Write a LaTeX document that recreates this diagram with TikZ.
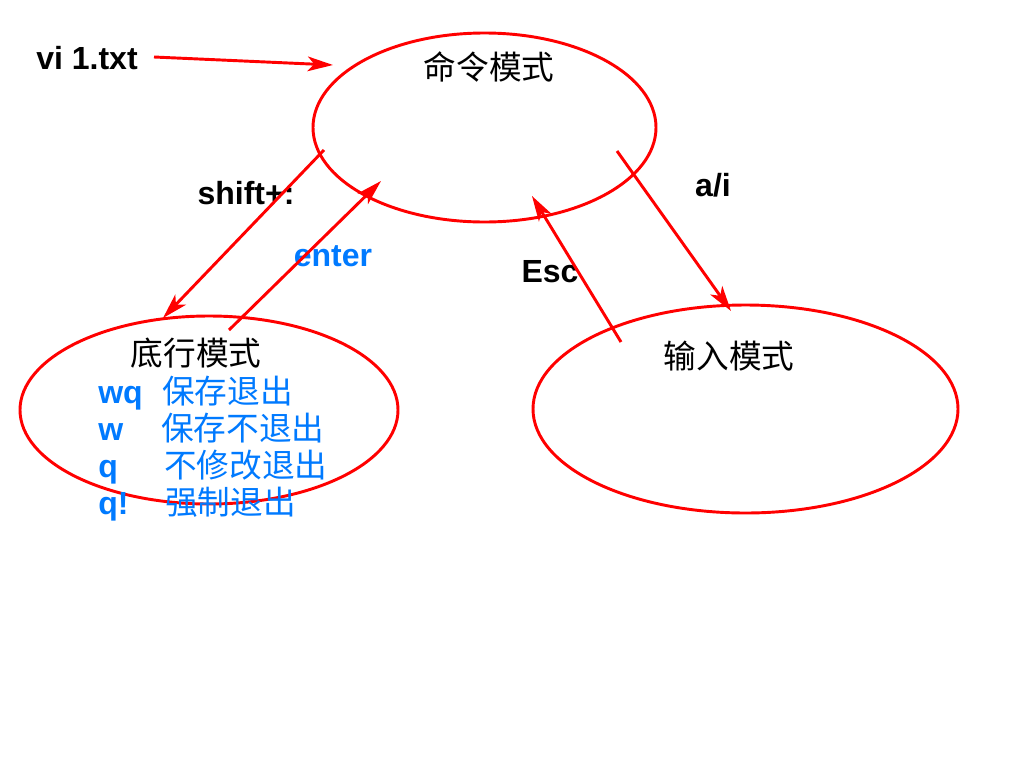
\documentclass[tikz,border=0pt]{standalone}
\usepackage{fontspec}
\setmainfont{Liberation Sans}
\newfontfamily\cjk{Noto Sans CJK SC}
\usetikzlibrary{arrows.meta}
\definecolor{lineRed}{RGB}{255,0,0}
\definecolor{txtBlue}{RGB}{0,122,255}
\tikzset{
  modeell/.style={draw=lineRed, line width=2.2pt},
  conn/.style={draw=lineRed, line width=2.2pt, -{Stealth[length=19pt,width=11pt,inset=5pt]}},
  lbl/.style={font=\fontsize{24}{28}\selectfont\bfseries, inner sep=0pt},
  blbl/.style={lbl, text=txtBlue},
  cjklbl/.style={font=\fontsize{24.5}{28}\selectfont\cjk, inner sep=0pt},
  bcjk/.style={cjklbl, text=txtBlue, anchor=base west},
  bcode/.style={lbl, text=txtBlue, anchor=base west}
}
\begin{document}
\begin{tikzpicture}[x=0.75pt,y=-0.75pt]
\useasboundingbox[fill=white] (0,0) rectangle (1024,768);
% ellipses
\draw[modeell] (484.5,127.5) ellipse [x radius=171.5, y radius=94.5];
\draw[modeell] (209,410) ellipse [x radius=189, y radius=94];
\draw[modeell] (745.5,409) ellipse [x radius=212.5, y radius=104];
% titles
\node[cjklbl] (cmd) at (489,67) {命令模式};
\node[cjklbl] (bottom) at (196,353) {底行模式};
\node[cjklbl] (input) at (729,356) {输入模式};
% labels
\node[lbl] (vi) at (87,58) {vi 1.txt};
\node[lbl] (shift) at (246,193) {shift+:};
\node[blbl] (enter) at (333,256) {enter};
\node[lbl] (esc) at (550,272) {Esc};
\node[lbl] (ai) at (713,185) {a/i};
% commands list
\node[bcode] (c1) at (98,403) {wq};
\node[bcjk] (d1) at (162,403) {保存退出};
\node[bcode] (c2) at (98,440) {w};
\node[bcjk] (d2) at (161,440) {保存不退出};
\node[bcode] (c3) at (98,477) {q};
\node[bcjk] (d3) at (164,477) {不修改退出};
\node[bcode] (c4) at (98,514) {q!};
\node[bcjk] (d4) at (165,514) {强制退出};
% connector endpoints
\coordinate (viS) at (154,57);
\coordinate (viE) at (333,65);
\coordinate (shS) at (324,150);
\coordinate (shE) at (163,318);
\coordinate (enS) at (229,330);
\coordinate (enE) at (381,181);
\coordinate (esS) at (621,342);
\coordinate (esE) at (532,196);
\coordinate (aiS) at (617,151);
\coordinate (aiE) at (731,311);
\draw[conn] (viS) -- (viE);
\draw[conn] (shS) -- (shE);
\draw[conn] (enS) -- (enE);
\draw[conn] (esS) -- (esE);
\draw[conn] (aiS) -- (aiE);
\end{tikzpicture}
\end{document}
